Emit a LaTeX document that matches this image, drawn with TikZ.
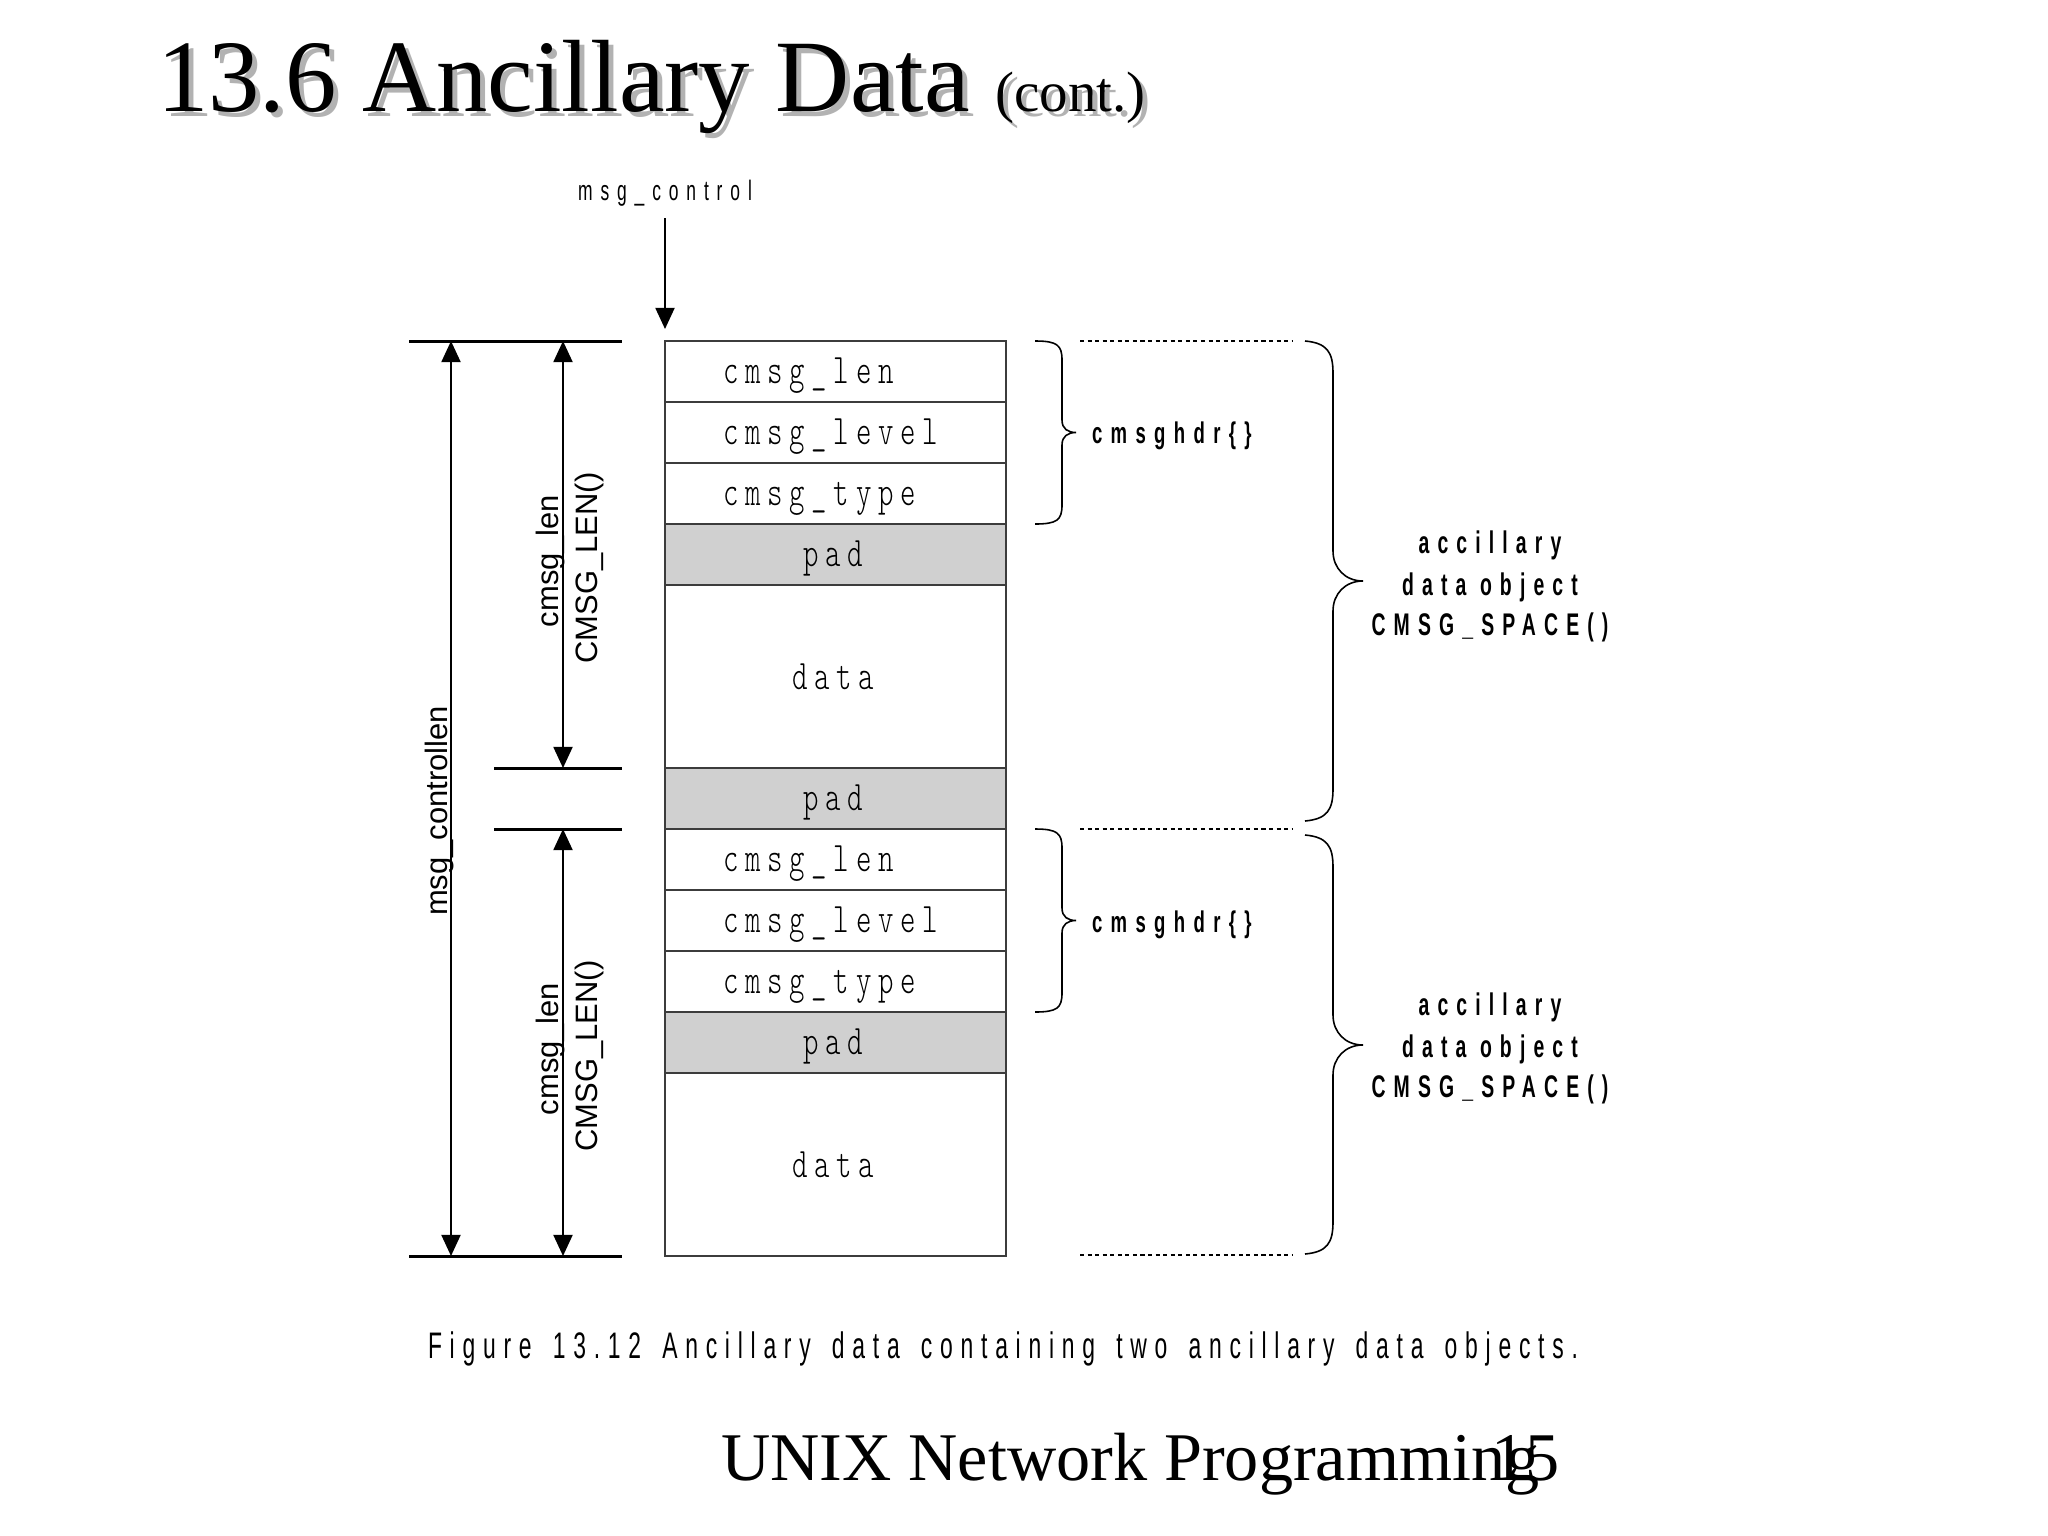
\documentclass[tikz,border=0pt]{standalone}
\usepackage{fontspec}
\usetikzlibrary{arrows.meta}
\setmainfont{Liberation Serif}
\newfontfamily\lsans{Liberation Sans}
\newfontfamily\nsans[FakeStretch=0.62]{Liberation Sans}
\newfontfamily\capfont[FakeStretch=0.62,LetterSpace=21,WordSpace=1.5]{Liberation Sans}
\newfontfamily\boxfont[FakeStretch=0.7]{lmmonolt10-regular.otf}
\newcommand\setfs[1]{\fontsize{#1}{#1}\selectfont}
\definecolor{padgray}{RGB}{208,208,208}
\definecolor{boxline}{RGB}{60,60,60}
\definecolor{shadowgray}{RGB}{178,178,178}
\tikzset{
  txt/.style={inner sep=0pt, outer sep=0pt},
  cell/.style={draw=boxline, line width=0.6pt, minimum width=3.41cm, minimum height=0.61cm, inner sep=0pt, outer sep=0pt},
  datacell/.style={cell, minimum height=1.83cm},
  padcell/.style={cell, fill=padgray},
  celltxt/.style={txt, anchor=base, font=\boxfont\addfontfeature{LetterSpace=16}\setfs{11.95}},
  celltxtl/.style={celltxt, anchor=base west},
  hdrlab/.style={txt, anchor=base west, font=\nsans\bfseries\addfontfeature{LetterSpace=28}\setfs{8.5}},
  objlab/.style={txt, anchor=base, font=\nsans\bfseries\addfontfeature{LetterSpace=26}\setfs{8.9}},
  vlab/.style={txt, anchor=base, rotate=90, font=\lsans\setfs{8.8}},
  tick/.style={line width=0.85pt},
  arrowtip/.tip={Triangle[length=6pt,width=5.4pt]},
  dimarr/.style={line width=0.6pt, arrowtip-arrowtip},
  onearr/.style={line width=0.6pt, -arrowtip},
  bracepath/.style={line width=0.45pt},
  dotline/.style={line width=0.6pt, dash pattern=on 1.15pt off 1pt},
}
\begin{document}
\begin{tikzpicture}[x=0.01cm, y=-0.01cm]
\path[fill=white,use as bounding box] (0,0) rectangle (2048,1536);

% title
\node[txt, anchor=base west, text=shadowgray] (titleshadow) at (162,116)
  {\setfs{29.2}13.6 Ancillary Data {\setfs{16.2}(cont.)}};
\node[txt, anchor=base west] (title) at (157,111)
  {\setfs{29.2}13.6 Ancillary Data {\setfs{16.2}(cont.)}};

% msg_control pointer
\node[txt, anchor=base, font=\nsans\addfontfeature{LetterSpace=28}\setfs{8}] (mc) at (665,200) {msg\_control};
\coordinate (mct) at (665,329);
\draw[onearr, shorten <=3.5pt] (mc.south -| mct) -- (mct);

% cells
\node[cell] (r1) at (835.5,371.5) {};
\node[cell] (r2) at (835.5,432.5) {};
\node[cell] (r3) at (835.5,493.5) {};
\node[padcell] (p1) at (835.5,554.5) {};
\node[datacell] (d1) at (835.5,676.5) {};
\node[padcell] (p2) at (835.5,798.5) {};
\node[cell] (r4) at (835.5,859.5) {};
\node[cell] (r5) at (835.5,920.5) {};
\node[cell] (r6) at (835.5,981.5) {};
\node[padcell] (p3) at (835.5,1042.5) {};
\node[datacell] (d2) at (835.5,1164.5) {};

\node[celltxtl] (r1t) at (723,383) {cmsg\_len};
\node[celltxtl] (r2t) at (723,444) {cmsg\_level};
\node[celltxtl] (r3t) at (723,505) {cmsg\_type};
\node[celltxt] (p1t) at (833,566) {pad};
\node[celltxt] (d1t) at (833,689) {data};
\node[celltxt] (p2t) at (833,810) {pad};
\node[celltxtl] (r4t) at (723,871) {cmsg\_len};
\node[celltxtl] (r5t) at (723,932) {cmsg\_level};
\node[celltxtl] (r6t) at (723,993) {cmsg\_type};
\node[celltxt] (p3t) at (833,1054) {pad};
\node[celltxt] (d2t) at (833,1177) {data};

% dimension ticks
\coordinate (t0L) at (409,341);  \coordinate (t0R) at (622,341);
\coordinate (t1L) at (494,768);  \coordinate (t1R) at (622,768);
\coordinate (t2L) at (494,829);  \coordinate (t2R) at (622,829);
\coordinate (t3L) at (409,1256); \coordinate (t3R) at (622,1256);
\draw[tick] (t0L) -- (t0R);
\draw[tick] (t1L) -- (t1R);
\draw[tick] (t2L) -- (t2R);
\draw[tick] (t3L) -- (t3R);

% dimension arrows
\coordinate (a0) at (451,341); \coordinate (a1) at (451,1256);
\coordinate (b0) at (563,341); \coordinate (b1) at (563,768);
\coordinate (c0) at (563,829); \coordinate (c1) at (563,1256);
\draw[dimarr] (a0) -- (a1);
\draw[dimarr] (b0) -- (b1);
\draw[dimarr] (c0) -- (c1);

\node[vlab] (mcl) at (447,811) {msg\_controllen};
\node[vlab] (ul1) at (558,561) {cmsg\_len};
\node[vlab] (ul2) at (597,568) {CMSG\_LEN()};
\node[vlab] (ll1) at (558,1049) {cmsg\_len};
\node[vlab] (ll2) at (597,1056) {CMSG\_LEN()};

% small braces (cmsghdr)
\draw[bracepath] (1035,341) .. controls (1057,341) and (1062,345) .. (1062,360)
  -- (1062,420) .. controls (1062,429) and (1068,432.5) .. (1076,432.5)
  .. controls (1068,432.5) and (1062,436) .. (1062,445)
  -- (1062,505) .. controls (1062,520) and (1057,524) .. (1035,524);
\draw[bracepath] (1035,829) .. controls (1057,829) and (1062,833) .. (1062,848)
  -- (1062,908) .. controls (1062,917) and (1068,920.5) .. (1076,920.5)
  .. controls (1068,920.5) and (1062,924) .. (1062,933)
  -- (1062,993) .. controls (1062,1008) and (1057,1012) .. (1035,1012);
\node[hdrlab] (h1) at (1092,443) {cmsghdr\{\}};
\node[hdrlab] (h2) at (1092,932) {cmsghdr\{\}};

% dotted separators
\coordinate (s0L) at (1080,341);  \coordinate (s0R) at (1292,341);
\coordinate (s1L) at (1080,829);  \coordinate (s1R) at (1292,829);
\coordinate (s2L) at (1080,1255); \coordinate (s2R) at (1292,1255);
\draw[dotline] (s0L) -- (s0R);
\draw[dotline] (s1L) -- (s1R);
\draw[dotline] (s2L) -- (s2R);

% big braces (ancillary data objects)
\draw[bracepath] (1305,341) .. controls (1327,343) and (1333,352) .. (1333,373)
  -- (1333,551) .. controls (1333,568) and (1345,581) .. (1363,581)
  .. controls (1345,581) and (1333,594) .. (1333,611)
  -- (1333,789) .. controls (1333,810) and (1327,819) .. (1305,821);
\draw[bracepath] (1305,835) .. controls (1327,837) and (1333,846) .. (1333,867)
  -- (1333,1015) .. controls (1333,1032) and (1345,1045) .. (1363,1045)
  .. controls (1345,1045) and (1333,1058) .. (1333,1075)
  -- (1333,1222) .. controls (1333,1243) and (1327,1252) .. (1305,1254);

\node[objlab] (o1a) at (1490,553) {accillary};
\node[objlab] (o1b) at (1490,595) {data object};
\node[objlab] (o1c) at (1490,635) {CMSG\_SPACE()};
\node[objlab] (o2a) at (1490,1015) {accillary};
\node[objlab] (o2b) at (1490,1057) {data object};
\node[objlab] (o2c) at (1490,1097) {CMSG\_SPACE()};

% caption
\node[txt, anchor=base west, font=\capfont\setfs{10.5}] (cap) at (428,1358)
  {Figure 13.12 Ancillary data containing two ancillary data objects.};

% footer
\node[txt, anchor=base west] (foot) at (721,1480) {\setfs{19.4}UNIX Network Programming};
\node[txt, anchor=base west] (pgno) at (1491,1480) {\setfs{19.4}15};
\end{tikzpicture}
\end{document}
